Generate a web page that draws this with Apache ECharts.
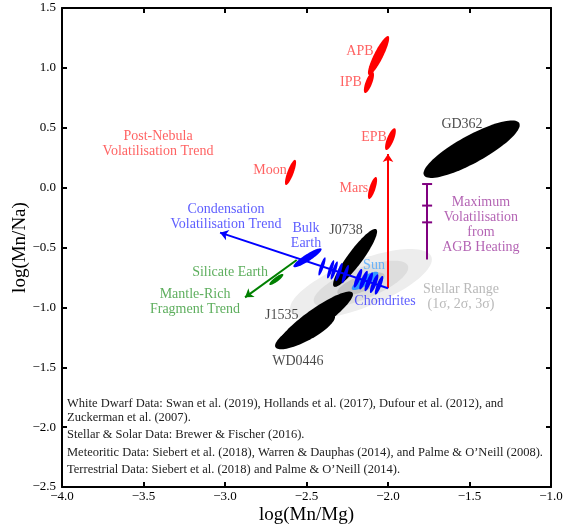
<!DOCTYPE html>
<html>
<head>
<meta charset="utf-8">
<script src="https://cdn.jsdelivr.net/npm/echarts@6/dist/echarts.min.js"></script>
<style>
  html, body { margin: 0; padding: 0; background: #fff; }
  #chart { width: 566px; height: 528px; }
</style>
</head>
<body>
<div id="chart"></div>
<script>
// planetary bodies (red) : centre, sigma x, sigma y, correlation
const planetNames = ['APB', 'IPB', 'EPB', 'Mars', 'Moon']
const planetX = [-2.058, -2.117, -1.985, -2.095, -2.598]
const planetY = [1.103, 0.878, 0.405, -0.003, 0.127]
const planetSx = [0.065, 0.031, 0.033, 0.028, 0.034]
const planetSy = [0.163, 0.088, 0.091, 0.092, 0.105]
const planetRho = [0.88, 0.72, 0.74, 0.72, 0.8]

// polluted white dwarfs (black)
const wdNames = ['GD362', 'J0738', 'J1535', 'WD0446']
const wdX = [-1.487, -2.202, -2.445, -2.509]
const wdY = [0.321, -0.587, -1.098, -1.200]
const wdSx = [0.295, 0.135, 0.230, 0.184]
const wdSy = [0.240, 0.242, 0.230, 0.150]
const wdRho = [0.84, 0.91, 0.9, 0.8]

// stellar range, 1 sigma ellipse (drawn at 3, 2, 1 sigma)
const stellar = [-2.166, -0.805, 0.145, 0.0975, 0.7]
const sigmaLevels = [3, 2, 1]

const sun = [-2.141, -0.779, 0.0815, 0.0765, 0.82]
const bulkEarth = [-2.494, -0.586, 0.0865, 0.079, 0.9]
const silicateEarth = [-2.685, -0.767, 0.043, 0.046, 0.86]

// condensation sequence and chondrites (blue sticks)
const condX = [-2.405, -2.352, -2.330, -2.300, -2.262]
const condY = [-0.658, -0.682, -0.692, -0.705, -0.722]
const chondX = [-2.184, -2.150, -2.118, -2.085, -2.055]
const chondY = [-0.757, -0.773, -0.787, -0.802, -0.815]

// trends
const condTrend = [[-2.0, -0.84], [-3.03, -0.376]]
const nebulaTrend = [[-2.0, -0.84], [-2.0, 0.28]]
const mantleTrend = [[-2.56, -0.604], [-2.877, -0.916]]

// AGB heating bar
const agbX = -1.76
const agbCaps = [0.03, -0.15, -0.29]
const agbBottom = -0.60

// annotations
const noteText = ['APB', 'IPB', 'EPB', 'Mars', 'Moon', 'Post-Nebula\nVolatilisation Trend',
  'GD362', 'Maximum\nVolatilisation\nfrom\nAGB Heating', 'Condensation\nVolatilisation Trend',
  'Bulk\nEarth', 'J0738', 'Sun', 'Chondrites', 'Stellar Range\n(1σ, 2σ, 3σ)',
  'Silicate Earth', 'Mantle-Rich\nFragment Trend', 'J1535', 'WD0446']
const noteX = [-2.172, -2.227, -2.086, -2.209, -2.724, -3.411,
  -1.546, -1.43, -2.994, -2.503, -2.258, -2.086, -2.018, -1.552,
  -2.969, -3.184, -2.652, -2.553]
const noteY = [1.141, 0.882, 0.423, -0.003, 0.147, 0.364,
  0.531, -0.312, -0.241, -0.404, -0.354, -0.646, -0.947, -0.909,
  -0.705, -0.955, -1.064, -1.448]
const noteKind = ['red', 'red', 'red', 'red', 'red', 'red', 'black', 'purple', 'blue',
  'blue', 'black', 'sky', 'blue', 'gray', 'green', 'green', 'black', 'black']

const footnotes = [
  'White Dwarf Data: Swan et al. (2019), Hollands et al. (2017), Dufour et al. (2012), and',
  'Zuckerman et al. (2007).',
  'Stellar & Solar Data: Brewer & Fischer (2016).',
  'Meteoritic Data: Siebert et al. (2018), Warren & Dauphas (2014), and Palme & O\u2019Neill (2008).',
  'Terrestrial Data: Siebert et al. (2018) and Palme & O\u2019Neill (2014).'
]

const FONT = 'Liberation Serif'
const textColors = {
  red: '#ff3b3b', black: '#1a1a1a', purple: '#a03ca0', blue: '#3535ff',
  sky: '#4ea8ff', gray: '#a8a8a8', green: '#349a34'
}

// correlated error ellipse in data space
function ellipseItem(params, api) {
  const cx = api.value(0), cy = api.value(1)
  const sx = api.value(2), sy = api.value(3), r = api.value(4)
  const k = Math.sqrt(1 - r * r)
  const pts = []
  for (let i = 0; i < 90; i++) {
    const t = i / 90 * Math.PI * 2
    pts.push(api.coord([cx + sx * Math.cos(t), cy + sy * (r * Math.cos(t) + k * Math.sin(t))]))
  }
  return { type: 'polygon', shape: { points: pts }, style: { fill: api.visual('color') } }
}

function ellipseSeries(name, rows, color, z) {
  return {
    type: 'custom', name: name, renderItem: ellipseItem, clip: true, z: z,
    encode: { x: 0, y: 1 }, itemStyle: { color: color }, data: rows, silent: true
  }
}

function zipRows(xs, ys, sxs, sys, rhos) {
  return xs.map((x, i) => [x, ys[i], sxs[i], sys[i], rhos[i]])
}

const gray = ['#ededed', '#dddddd', '#c4c4c4']
const stellarRows = sigmaLevels.map((s, i) => ({
  value: [stellar[0], stellar[1], stellar[2] * s, stellar[3] * s, stellar[4]],
  itemStyle: { color: gray[i] }
}))

const condRows = condX.map((x, i) => [x, condY[i], 0.022, 0.076, 0.84])
const chondRows = chondX.map((x, i) => [x, chondY[i], 0.026, 0.078, 0.82])

function arrow(coords, color) {
  return {
    type: 'lines', coordinateSystem: 'cartesian2d', z: 6, silent: true,
    symbol: ['none', 'arrow'], symbolSize: 8,
    lineStyle: { color: color, width: 2, opacity: 1 },
    data: [{ coords: coords }]
  }
}

const fmt = v => v.toFixed(1).replace('-', '\u2212')

const axisCommon = {
  type: 'value', interval: 0.5,
  axisLine: { show: true, onZero: false, lineStyle: { color: '#000', width: 2 } },
  axisTick: { show: true, inside: true, length: 5, lineStyle: { color: '#000', width: 2 } },
  splitLine: { show: false }
}

const chartEl = document.getElementById('chart')
const myChart = echarts.init(chartEl)

const options = {
  animation: false,
  grid: { left: 62, right: 15, top: 8, bottom: 41, containLabel: false, outerBoundsMode: 'none' },
  xAxis: [
    Object.assign({}, axisCommon, {
      min: -4, max: -1, position: 'bottom',
      axisLabel: { color: '#000', fontFamily: FONT, fontSize: 13, margin: 3, formatter: fmt },
      name: 'log(Mn/Mg)', nameLocation: 'middle', nameGap: 19, nameMoveOverlap: false,
      nameTextStyle: { color: '#000', fontFamily: FONT, fontSize: 19 }
    }),
    Object.assign({}, axisCommon, { min: -4, max: -1, position: 'top', axisLabel: { show: false } })
  ],
  yAxis: [
    Object.assign({}, axisCommon, {
      min: -2.5, max: 1.5, position: 'left',
      axisLabel: { color: '#000', fontFamily: FONT, fontSize: 13, margin: 6, formatter: fmt },
      name: 'log(Mn/Na)', nameLocation: 'middle', nameGap: 32, nameMoveOverlap: false,
      nameTextStyle: { color: '#000', fontFamily: FONT, fontSize: 19 }
    }),
    Object.assign({}, axisCommon, { min: -2.5, max: 1.5, position: 'right', axisLabel: { show: false } })
  ],
  series: [
    ellipseSeries('stellar', stellarRows, '#ddd', 1),
    ellipseSeries('white dwarfs', zipRows(wdX, wdY, wdSx, wdSy, wdRho), '#000', 2),
    ellipseSeries('sun', [sun], '#3399ff', 3),
    arrow(nebulaTrend, '#ff0000'),
    arrow(condTrend, '#0000ff'),
    arrow(mantleTrend, '#008000'),
    ellipseSeries('condensation', condRows.concat([bulkEarth]), '#0000ff', 7),
    ellipseSeries('chondrites', chondRows, '#0000ff', 7),
    ellipseSeries('planets', zipRows(planetX, planetY, planetSx, planetSy, planetRho), '#ff0000', 7),
    ellipseSeries('silicate earth', [silicateEarth], '#008000', 7),
    {
      type: 'lines', coordinateSystem: 'cartesian2d', z: 6, silent: true,
      lineStyle: { color: '#800080', width: 2, opacity: 1 },
      data: [{ coords: [[agbX, agbCaps[0]], [agbX, agbBottom]] }]
    },
    {
      type: 'custom', name: 'agb caps', z: 6, silent: true, encode: { x: 0, y: 1 },
      data: agbCaps.map(y => [agbX, y]),
      renderItem: function (params, api) {
        const p = api.coord([api.value(0), api.value(1)])
        return {
          type: 'line', shape: { x1: p[0] - 5, y1: p[1], x2: p[0] + 5, y2: p[1] },
          style: { stroke: '#800080', lineWidth: 2 }
        }
      }
    },
    {
      type: 'scatter', name: 'notes', z: 10, silent: true, symbolSize: 1,
      itemStyle: { color: 'rgba(0,0,0,0)' },
      label: {
        show: true, position: 'inside', formatter: '{b}', align: 'center',
        fontFamily: FONT, fontSize: 14, lineHeight: 15
      },
      data: noteText.map((t, i) => ({
        name: t, value: [noteX[i], noteY[i]],
        label: { color: textColors[noteKind[i]] }
      }))
    }
  ],
  graphic: footnotes.map((t, i) => ({
    type: 'text', x: 67, y: [404, 418, 435, 453, 470][i], silent: true,
    style: { text: t, fill: '#222', font: '12.5px "' + FONT + '"', verticalAlign: 'middle' }
  }))
}
myChart.setOption(options)
</script>
</body>
</html>
